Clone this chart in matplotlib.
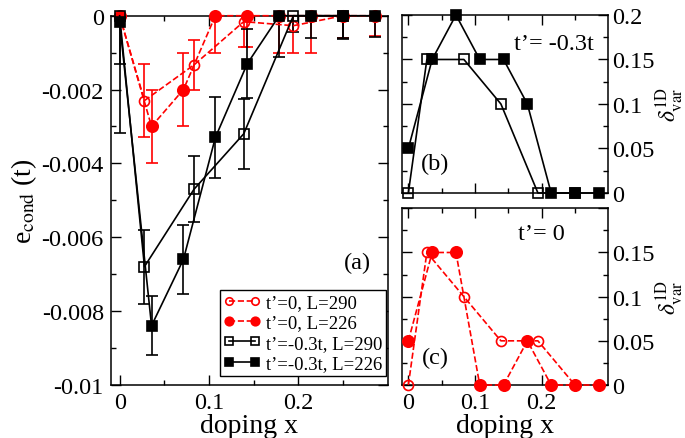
import numpy as np
import matplotlib
matplotlib.use('Agg')
import matplotlib.pyplot as plt
from matplotlib.lines import Line2D

plt.rcParams['font.family'] = ['Liberation Serif', 'DejaVu Serif']
plt.rcParams['mathtext.fontset'] = 'stix'
plt.rcParams['axes.unicode_minus'] = False

# doping values: L=226 runs on k/28, L=290 runs on k/36
x_226 = np.array([0, 1, 2, 3, 4, 5, 6, 7, 8]) / 28.0
x_290 = np.array([0, 1, 3, 5, 7, 9]) / 36.0

# panel (a): condensation energy
e_t0_290 = [0, -0.0023, -0.00133, -0.00016, -0.00027, 0]
err_t0_290 = [0, 0.001, 0.00068, 0.0007, 0.00075, 0.0006]
e_t0_226 = [0, -0.003, -0.002, 0, 0, 0, 0, 0, 0]
err_t0_226 = [0, 0.001, 0.001, 0.001, 0.00086, 0.001, 0.001, 0.0006, 0.00055]
e_t3_290 = [0, -0.0068, -0.0047, -0.0032, 0, 0]
err_t3_290 = [0.0013, 0.001, 0.0009, 0.00095, 0.00045, 0.0006]
e_t3_226 = [-0.00018, -0.0084, -0.0066, -0.0033, -0.0013, 0, 0, 0, 0]
err_t3_226 = [0.003, 0.0008, 0.00094, 0.0011, 0.00093, 0.00113, 0.0006, 0.00063, 0.00059]

# panel (b): delta_var for t'=-0.3t
d_t3_290 = [0, 0.15, 0.15, 0.1, 0, 0]
d_t3_226 = [0.05, 0.15, 0.2, 0.15, 0.15, 0.1, 0, 0, 0]
# panel (c): delta_var for t'=0
d_t0_290 = [0, 0.15, 0.1, 0.05, 0.05, 0]
d_t0_226 = [0.05, 0.15, 0.15, 0, 0, 0.05, 0, 0, 0]

a_yticks = [0, -0.002, -0.004, -0.006, -0.008, -0.01]
a_ylabels = ['0', '-0.002', '-0.004', '-0.006', '-0.008', '-0.01']
xticks = [0, 0.1, 0.2]
xlabels = ['0', '0.1', '0.2']
d_yticks = [0, 0.05, 0.1, 0.15, 0.2]
b_ylabels = ['0', '0.05', '0.1', '0.15', '0.2']
c_ylabels = ['0', '0.05', '0.1', '0.15', '']

fig = plt.figure(figsize=(6.85, 4.39), dpi=100)
axa = fig.add_axes([0.1616, 0.1214, 0.4044, 0.8405])
axb = fig.add_axes([0.5864, 0.5581, 0.3016, 0.4055])
axc = fig.add_axes([0.5864, 0.1207, 0.3016, 0.4025])

tsz = 17.5
for ax in (axa, axb, axc):
    ax.set_xlim(-0.01, 0.3)
    ax.set_xticks(xticks)
    ax.set_xticks([0.05, 0.15, 0.25], minor=True)
    ax.tick_params(which='both', direction='in', top=True, right=True,
                   labelsize=tsz, width=1)
    ax.tick_params(which='major', length=7)
    ax.tick_params(which='minor', length=3.6)
    for s in ax.spines.values():
        s.set_linewidth(1.1)

red = '#ff0000'
ms_o = 7.2
ms_f = 8.2
ms_s = 7

# ---- panel (a)
axa.set_ylim(-0.01, 0)
axa.set_yticks(a_yticks)
axa.set_yticklabels(a_ylabels)
axa.set_yticks(np.arange(-0.009, 0, 0.002), minor=True)
axa.set_xticklabels(xlabels)
axa.tick_params(axis='both', pad=5)

series = [
    (x_290, e_t0_290, err_t0_290, red, '--', 'o', 'none', ms_o, 't\u2019=0, L=290'),
    (x_226, e_t0_226, err_t0_226, red, '--', 'o', red, ms_f, 't\u2019=0, L=226'),
    (x_290, e_t3_290, err_t3_290, 'black', '-', 's', 'none', ms_s, 't\u2019=-0.3t, L=290'),
    (x_226, e_t3_226, err_t3_226, 'black', '-', 's', 'black', ms_s, 't\u2019=-0.3t, L=226'),
]
handles = []
for xs, ys, es, col, ls, mk, fc, ms, lab in series:
    axa.errorbar(xs, ys, yerr=es, fmt='none', ecolor=col, elinewidth=1.2,
                 capsize=4.5, capthick=1.2)
    axa.plot(xs, ys, color=col, ls=ls, lw=1.2, marker=mk, mfc=fc, mec=col,
             mew=1.2, ms=ms, clip_on=False, zorder=3)
    handles.append(Line2D([], [], color=col, ls=ls, lw=1.2, marker=mk, mfc=fc,
                          mec=col, mew=1.2, ms=ms, label=lab))

axa.set_xlabel('doping x', fontsize=20, labelpad=0)
axa.set_ylabel(r'e$_{\rm cond}$ (t)', fontsize=20, labelpad=2)
axa.text(0.266, -0.0067, '(a)', fontsize=tsz, ha='center', va='center')
leg = axa.legend(handles=handles, loc='lower right', bbox_to_anchor=(0.993, 0.024),
                 borderaxespad=0, numpoints=2, fontsize=13.5, handlelength=2.0,
                 handletextpad=0.25, labelspacing=0.17, borderpad=0.2,
                 markerscale=0.75, fancybox=False, framealpha=1,
                 edgecolor='black')
leg.get_frame().set_linewidth(1.0)

# ---- panels (b) and (c)
def delta_panel(ax, d290, d226, col, ls, mk, ms290, ms226, labels):
    ax.set_ylim(0, 0.2)
    ax.set_yticks(d_yticks)
    ax.set_yticklabels(labels)
    ax.set_yticks([0.025, 0.075, 0.125, 0.175], minor=True)
    ax.yaxis.tick_right()
    ax.tick_params(which='both', left=True, right=True, labelleft=False,
                   labelright=True)
    ax.tick_params(axis='y', pad=3)
    ax.plot(x_290, d290, color=col, ls=ls, lw=1.2, marker=mk, mfc='none',
            mec=col, mew=1.2, ms=ms290, clip_on=False, zorder=3)
    ax.plot(x_226, d226, color=col, ls=ls, lw=1.2, marker=mk, mfc=col,
            mec=col, mew=1.2, ms=ms226, clip_on=False, zorder=3)
    ax.yaxis.set_label_position('right')
    ax.set_ylabel(r'$\delta^{\rm 1D}_{\rm var}$', fontsize=17, labelpad=-1)

delta_panel(axb, d_t3_290, d_t3_226, 'black', '-', 's', ms_s, ms_s, b_ylabels)
axb.set_xticklabels([])
axb.text(0.218, 0.168, 't\u2019= -0.3t', fontsize=tsz, ha='center', va='center')
axb.text(0.04, 0.033, '(b)', fontsize=tsz, ha='center', va='center')

delta_panel(axc, d_t0_290, d_t0_226, red, '--', 'o', ms_o, ms_f, c_ylabels)
axc.set_xticklabels(xlabels)
axc.tick_params(axis='x', pad=5)
axc.set_xlabel('doping x', fontsize=20, labelpad=0)
axc.text(0.2, 0.171, 't\u2019= 0', fontsize=tsz, ha='center', va='center')
axc.text(0.04, 0.031, '(c)', fontsize=tsz, ha='center', va='center')

fig.savefig('out.png', dpi=100)
